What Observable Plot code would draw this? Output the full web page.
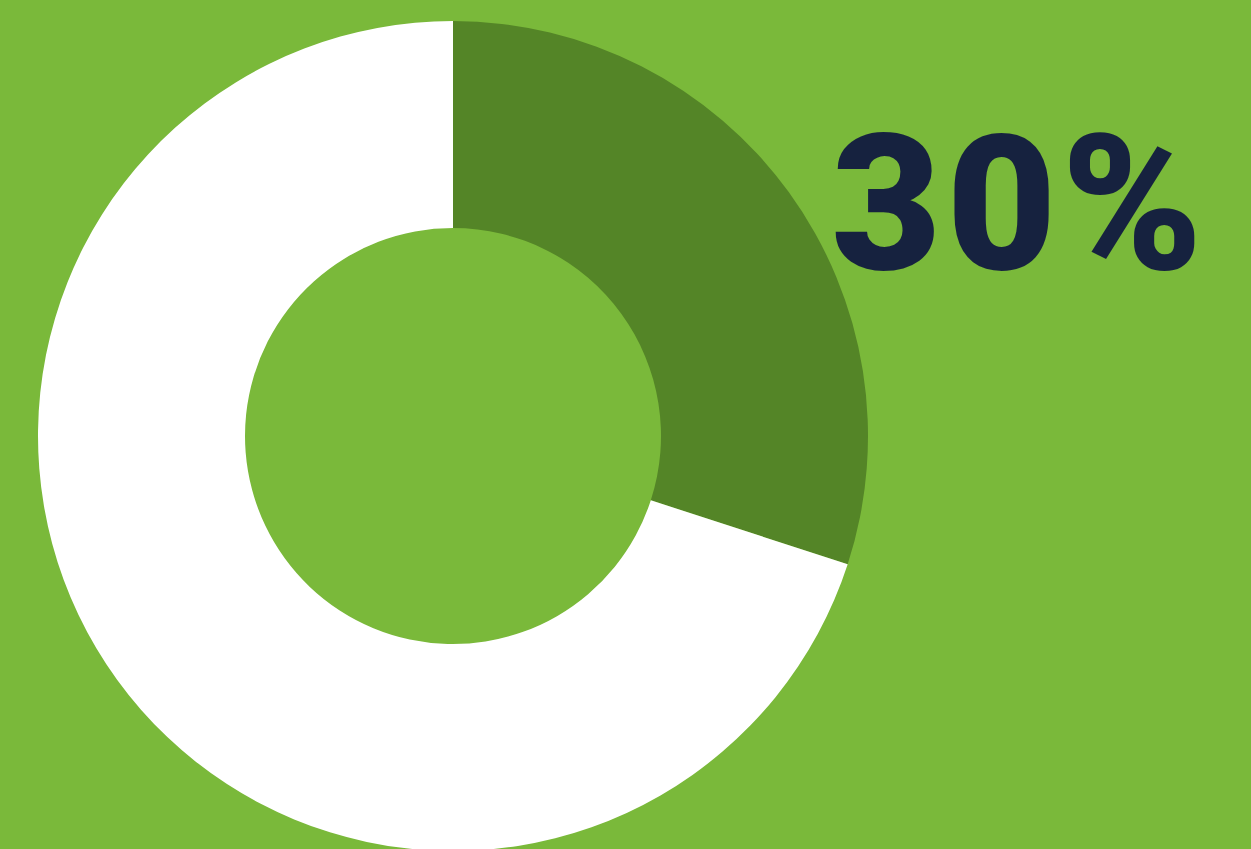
<!DOCTYPE html>
<html>
<head>
<meta charset="utf-8">
<script src="https://cdn.jsdelivr.net/npm/d3@7"></script>
<script src="https://cdn.jsdelivr.net/npm/@observablehq/plot@0.6"></script>
<style>
  html, body { margin: 0; padding: 0; background: #7ab93a; overflow: hidden; }
  svg { display: block; }
  svg text.pct { letter-spacing: 5px; }
</style>
</head>
<body>
<div id="chart"></div>
<script>
const categories = ["Share", "Rest"];
const values = [30, 70];
const colors = ["#548527", "#ffffff"];
const labelText = ["30%"];

const data = categories.map((c, i) => ({category: c, value: values[i], color: colors[i]}));
const pie = d3.pie().sort(null).value(d => d.value)(data);

const W = 1251, H = 849;
const cx = 453, cy = 436, R = 415, r0 = 208;

function donut() {
  return (index, scales, values, dimensions, context) => {
    const g = d3.create("svg:g");
    const x0 = scales.x(0), y0 = scales.y(0);
    const rad = scales.x(1) - scales.x(0);
    const arc = d3.arc().innerRadius(rad * r0 / R).outerRadius(rad);
    g.selectAll("path").data(pie).join("path")
      .attr("transform", `translate(${x0},${y0})`)
      .attr("d", arc)
      .attr("fill", d => d.data.color);
    return g.node();
  };
}

const plot = Plot.plot({
  width: W, height: H,
  margin: 0,
  style: {background: "#7ab93a", overflow: "visible"},
  x: {domain: [-cx / R, (W - cx) / R], range: [0, W], axis: null},
  y: {domain: [-(H - cy) / R, cy / R], range: [H, 0], axis: null},
  marks: [
    donut(),
    Plot.text(labelText, {
      x: () => (1019 - cx) / R,
      y: () => (cy - 208) / R,
      text: d => d,
      fill: "#16223f",
      fontSize: 190,
      fontWeight: 900,
      fontFamily: "Roboto, sans-serif",
      textAnchor: "middle",
      lineAnchor: "middle",
      className: "pct"
    })
  ]
});
plot.querySelectorAll("g[aria-label=text] text").forEach(t => t.classList.add("pct"));
document.getElementById("chart").append(plot);
</script>
</body>
</html>
